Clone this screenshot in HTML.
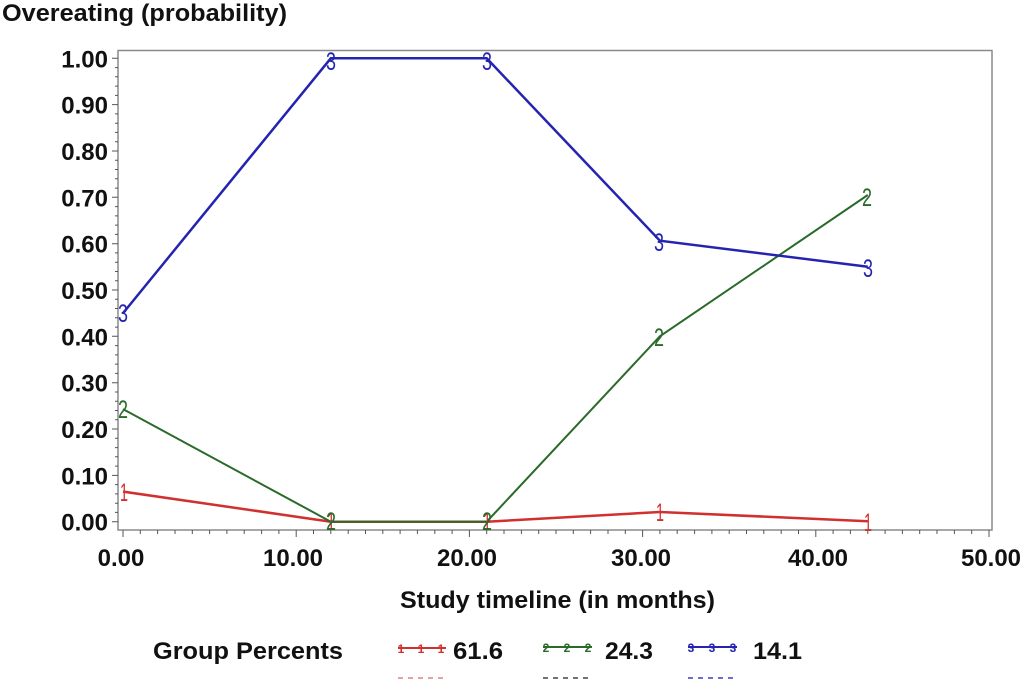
<!DOCTYPE html>
<html>
<head>
<meta charset="utf-8">
<style>
  html,body{margin:0;padding:0;background:#fff;}
  svg{display:block;}
  .lab{font-family:"Liberation Sans",Arial,sans-serif;font-weight:bold;font-size:24px;fill:#111;}
  .mk{font-family:"Liberation Sans",Arial,sans-serif;font-size:25px;}
  .lm{font-family:"Liberation Sans",Arial,sans-serif;font-size:12px;font-weight:bold;}
</style>
</head>
<body>
<svg width="1024" height="682" viewBox="0 0 1024 682" xmlns="http://www.w3.org/2000/svg">
  <rect x="0" y="0" width="1024" height="682" fill="#fff"/>

  <!-- Title -->
  <text class="lab" x="2" y="21" textLength="285" lengthAdjust="spacingAndGlyphs">Overeating (probability)</text>

  <!-- Frame -->
  <rect x="118" y="50.5" width="874" height="479.5" fill="none" stroke="#8a8a8a" stroke-width="1.5"/>

  <!-- Y ticks -->
  <path stroke="#555" stroke-width="1" fill="none" d="
  M112 521.7H118 M115 512.4H118 M115 503.2H118 M115 493.9H118 M115 484.6H118
  M112 475.4H118 M115 466.1H118 M115 456.8H118 M115 447.6H118 M115 438.3H118
  M112 429.0H118 M115 419.8H118 M115 410.5H118 M115 401.2H118 M115 392.0H118
  M112 382.7H118 M115 373.4H118 M115 364.1H118 M115 354.9H118 M115 345.6H118
  M112 336.3H118 M115 327.1H118 M115 317.8H118 M115 308.5H118 M115 299.3H118
  M112 290.0H118 M115 280.7H118 M115 271.5H118 M115 262.2H118 M115 252.9H118
  M112 243.7H118 M115 234.4H118 M115 225.1H118 M115 215.9H118 M115 206.6H118
  M112 197.3H118 M115 188.1H118 M115 178.8H118 M115 169.5H118 M115 160.2H118
  M112 151.0H118 M115 141.7H118 M115 132.4H118 M115 123.2H118 M115 113.9H118
  M112 104.6H118 M115 95.4H118 M115 86.1H118 M115 76.8H118 M115 67.6H118
  M112 58.3H118"/>

  <!-- X ticks -->
  <path stroke="#555" stroke-width="1" fill="none" d="
  M123 530V537 M140.3 530V534 M157.6 530V534 M175 530V534 M192.3 530V534 M209.6 530V534 M226.9 530V534 M244.2 530V534 M261.6 530V534 M278.9 530V534
  M296.2 530V537 M313.5 530V534 M330.8 530V534 M348.2 530V534 M365.5 530V534 M382.8 530V534 M400.1 530V534 M417.4 530V534 M434.8 530V534 M452.1 530V534
  M469.4 530V537 M486.7 530V534 M504 530V534 M521.4 530V534 M538.7 530V534 M556 530V534 M573.3 530V534 M590.6 530V534 M608 530V534 M625.3 530V534
  M642.6 530V537 M659.9 530V534 M677.2 530V534 M694.6 530V534 M711.9 530V534 M729.2 530V534 M746.5 530V534 M763.8 530V534 M781.2 530V534 M798.5 530V534
  M815.8 530V537 M833.1 530V534 M850.4 530V534 M867.8 530V534 M885.1 530V534 M902.4 530V534 M919.7 530V534 M937 530V534 M954.4 530V534 M971.7 530V534
  M989 530V537"/>

  <!-- Y tick labels -->
  <g class="lab" text-anchor="end">
    <text x="108" y="67.5">1.00</text>
    <text x="108" y="113.6">0.90</text>
    <text x="108" y="160">0.80</text>
    <text x="108" y="206.3">0.70</text>
    <text x="108" y="252.7">0.60</text>
    <text x="108" y="299">0.50</text>
    <text x="108" y="345.3">0.40</text>
    <text x="108" y="391.7">0.30</text>
    <text x="108" y="438">0.20</text>
    <text x="108" y="484.4">0.10</text>
    <text x="108" y="530.7">0.00</text>
  </g>

  <!-- X tick labels -->
  <g class="lab" text-anchor="middle">
    <text x="121" y="566">0.00</text>
    <text x="293" y="566">10.00</text>
    <text x="467" y="566">20.00</text>
    <text x="641" y="566">30.00</text>
    <text x="818" y="566">40.00</text>
    <text x="991" y="566">50.00</text>
  </g>

  <!-- X axis title -->
  <text class="lab" x="400" y="608" textLength="315" lengthAdjust="spacingAndGlyphs">Study timeline (in months)</text>

  <!-- Series lines -->
  <polyline fill="none" stroke="#d0302e" stroke-width="2.5" points="123,491.6 330.8,521.7 486.7,521.7 659.9,512 867.8,521.2"/>
  <polyline fill="none" stroke="#2a6a2a" stroke-width="2" points="123,409.1 330.8,521.7 486.7,521.7 659.9,336.3 867.8,195"/>
  <polyline fill="none" stroke="#2424b0" stroke-width="2.5" points="123,313.2 330.8,58.3 486.7,58.3 659.9,240.7 867.8,266.8"/>

  <!-- Markers -->
  <g class="mk" text-anchor="middle">
    <text fill="#d0302e" x="124" y="501" textLength="8" lengthAdjust="spacingAndGlyphs">1</text>
    <text fill="#d0302e" x="331" y="530" textLength="8" lengthAdjust="spacingAndGlyphs">1</text>
    <text fill="#d0302e" x="487" y="530" textLength="8" lengthAdjust="spacingAndGlyphs">1</text>
    <text fill="#d0302e" x="660" y="521" textLength="8" lengthAdjust="spacingAndGlyphs">1</text>
    <text fill="#d0302e" x="868" y="531" textLength="8" lengthAdjust="spacingAndGlyphs">1</text>

    <text fill="#2a6a2a" x="123" y="418" textLength="10" lengthAdjust="spacingAndGlyphs">2</text>
    <text fill="#2a6a2a" x="331" y="530" textLength="10" lengthAdjust="spacingAndGlyphs">2</text>
    <text fill="#2a6a2a" x="487" y="530" textLength="10" lengthAdjust="spacingAndGlyphs">2</text>
    <text fill="#2a6a2a" x="659" y="346" textLength="10" lengthAdjust="spacingAndGlyphs">2</text>
    <text fill="#2a6a2a" x="867" y="206" textLength="10" lengthAdjust="spacingAndGlyphs">2</text>

    <text fill="#2424b0" x="123" y="322" textLength="10" lengthAdjust="spacingAndGlyphs">3</text>
    <text fill="#2424b0" x="331" y="70" textLength="10" lengthAdjust="spacingAndGlyphs">3</text>
    <text fill="#2424b0" x="487" y="70" textLength="10" lengthAdjust="spacingAndGlyphs">3</text>
    <text fill="#2424b0" x="659" y="251" textLength="10" lengthAdjust="spacingAndGlyphs">3</text>
    <text fill="#2424b0" x="868" y="277" textLength="10" lengthAdjust="spacingAndGlyphs">3</text>
  </g>

  <!-- Legend -->
  <text class="lab" x="153" y="659" textLength="190" lengthAdjust="spacingAndGlyphs">Group Percents</text>

  <line x1="398" y1="648" x2="446" y2="648" stroke="#d0302e" stroke-width="2"/>
  <g class="lm" fill="#d0302e" text-anchor="middle">
    <text x="401" y="653">1</text><text x="421" y="653">1</text><text x="441" y="653">1</text>
  </g>
  <text class="lab" x="453" y="659" textLength="50" lengthAdjust="spacingAndGlyphs">61.6</text>
  <line x1="398" y1="678" x2="446" y2="678" stroke="#e08080" stroke-width="1.5" stroke-dasharray="5,5"/>

  <line x1="543" y1="647" x2="592" y2="647" stroke="#2a6a2a" stroke-width="2"/>
  <g class="lm" fill="#2a6a2a" text-anchor="middle">
    <text x="546" y="652">2</text><text x="567" y="652">2</text><text x="588" y="652">2</text>
  </g>
  <text class="lab" x="605" y="659" textLength="48" lengthAdjust="spacingAndGlyphs">24.3</text>
  <line x1="543" y1="678" x2="592" y2="678" stroke="#444" stroke-width="1.5" stroke-dasharray="5,5"/>

  <line x1="688" y1="647" x2="737" y2="647" stroke="#2424b0" stroke-width="2"/>
  <g class="lm" fill="#2424b0" text-anchor="middle">
    <text x="691" y="652">3</text><text x="712" y="652">3</text><text x="733" y="652">3</text>
  </g>
  <text class="lab" x="753" y="659" textLength="49" lengthAdjust="spacingAndGlyphs">14.1</text>
  <line x1="688" y1="678" x2="737" y2="678" stroke="#3a3ac0" stroke-width="1.5" stroke-dasharray="5,5"/>
</svg>
</body>
</html>
